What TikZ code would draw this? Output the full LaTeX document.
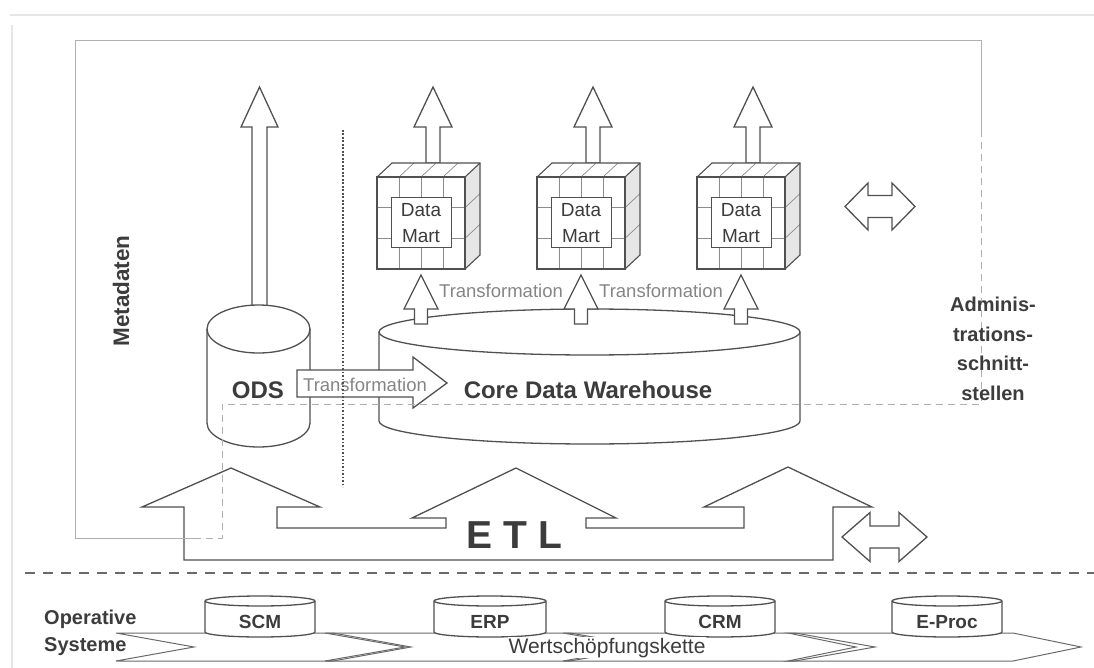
\documentclass[tikz,border=0pt]{standalone}
\usepackage{fontspec}
\setmainfont{Liberation Sans}
\definecolor{ink}{HTML}{505050}
\definecolor{txt}{HTML}{3C3C3C}
\definecolor{soft}{HTML}{858585}
\definecolor{framec}{HTML}{B0B0B0}
\definecolor{gridc}{HTML}{8C8C8C}
\definecolor{sidegray}{HTML}{E6E6E6}
\definecolor{edgec}{HTML}{E6E6E6}
\tikzset{
  outline/.style={draw=ink, line width=1.3pt, line join=miter, fill=white},
  thinline/.style={draw=ink, line width=1.1pt},
  gridline/.style={draw=gridc, line width=0.7pt},
  framesolid/.style={draw=framec, line width=1pt},
  framedash/.style={draw=framec, line width=1pt, dash pattern=on 7pt off 5pt},
  dotline/.style={draw=ink, line width=2.2pt, dash pattern=on 1.8pt off 1.7pt},
  sepline/.style={draw=ink!85, line width=2pt, dash pattern=on 10pt off 8pt},
  chevline/.style={draw=ink!85, line width=1pt, line join=miter},
  edgeline/.style={draw=edgec, line width=1.5pt},
  bigbold/.style={text=txt, inner sep=0pt, font=\bfseries\fontsize{24}{28}\selectfont},
  midbold/.style={text=txt, inner sep=0pt, font=\bfseries\fontsize{20}{24}\selectfont},
  smallbold/.style={text=txt, inner sep=0pt, font=\bfseries\fontsize{19}{22}\selectfont},
  translbl/.style={text=soft, inner sep=0pt, font=\fontsize{18.5}{22}\selectfont},
  martlbl/.style={draw=ink, line width=1pt, fill=white, minimum width=60pt,
    minimum height=50pt, align=center, inner sep=0pt, text=txt,
    font=\fontsize{19}{26}\selectfont},
  chainlbl/.style={text=txt, fill=white, inner sep=1pt, font=\fontsize{21}{24}\selectfont},
}
% upward block arrow: centre x, tip y, head base y, bottom y, head half width, shaft half width
\newcommand{\upblock}[6]{%
  \draw[outline] (#1,#2) -- ({#1+#5},#3) -- ({#1+#6},#3) -- ({#1+#6},#4)
    -- ({#1-#6},#4) -- ({#1-#6},#3) -- ({#1-#5},#3) -- cycle;}
% two-headed block arrow: centre x, centre y, half length, head length, head half height, shaft half height
\newcommand{\dblblock}[6]{%
  \draw[outline] ({#1-#3},#2) -- ({#1-#3+#4},{#2-#5}) -- ({#1-#3+#4},{#2-#6})
    -- ({#1+#3-#4},{#2-#6}) -- ({#1+#3-#4},{#2-#5}) -- ({#1+#3},#2)
    -- ({#1+#3-#4},{#2+#5}) -- ({#1+#3-#4},{#2+#6}) -- ({#1-#3+#4},{#2+#6})
    -- ({#1-#3+#4},{#2+#5}) -- cycle;}
% database cylinder: centre x, half width, top centre y, bottom centre y, y radius
\newcommand{\dbcyl}[5]{%
  \draw[outline] ({#1-#2},#3) -- ({#1-#2},#4)
    arc[start angle=180, end angle=0, x radius=#2, y radius=#5]
    -- ({#1+#2},#3)
    arc[start angle=0, end angle=-180, x radius=#2, y radius=#5] -- cycle;
  \draw[outline, fill=none] ({#1-#2},#3)
    arc[start angle=180, end angle=0, x radius=#2, y radius=#5];}
% data mart cube: front-left x, front-top y
\newcommand{\martcube}[2]{%
  \fill[white] (#1,#2) -- ({#1+15},{#2-14}) -- ({#1+103},{#2-14}) -- ({#1+88},#2) -- cycle;
  \fill[sidegray] ({#1+88},#2) -- ({#1+103},{#2-14}) -- ({#1+103},{#2+78}) -- ({#1+88},{#2+92}) -- cycle;
  \fill[white] (#1,#2) rectangle ({#1+88},{#2+92});
  \foreach \k in {1,2,3} {
    \draw[gridline] ({#1+22*\k},#2) -- ({#1+22*\k},{#2+92});
    \draw[gridline] ({#1+22*\k},#2) -- ({#1+22*\k+15},{#2-14});
  }
  \foreach \k in {1,2} {
    \draw[gridline] (#1,{#2+30.67*\k}) -- ({#1+88},{#2+30.67*\k});
    \draw[gridline] ({#1+88},{#2+30.67*\k}) -- ({#1+103},{#2+30.67*\k-14});
  }
  \draw[thinline, line join=miter] (#1,#2) rectangle ({#1+88},{#2+92});
  \draw[thinline, line join=miter] (#1,#2) -- ({#1+15},{#2-14}) -- ({#1+103},{#2-14})
    -- ({#1+103},{#2+78}) -- ({#1+88},{#2+92});
  \draw[thinline] ({#1+88},#2) -- ({#1+103},{#2-14});}
% value-chain chevron: tail x, head x, point depth
\newcommand{\chev}[3]{%
  \draw[chevline] (#1,633) -- (#2,633) -- ({#2+#3},647) -- (#2,661) -- (#1,661)
    -- ({#1+#3},647) -- cycle;}

\begin{document}
\begin{tikzpicture}[x=1pt, y=-1pt, line cap=butt]
\useasboundingbox (0,0) rectangle (1094,668);

% page edges
\draw[edgeline] (10,15) -- (1094,15);
\draw[edgeline] (12,25) -- (12,668);

% ODS with its outgoing arrow
\upblock{259.5}{87}{127}{314}{18.5}{7.5}
\dbcyl{258.5}{51.5}{329}{423}{24}

% core data warehouse
\dbcyl{589.5}{210.5}{332}{421}{23}

% transformations from the core warehouse up to the data marts
\upblock{421}{275}{309}{324}{17}{6.5}
\upblock{581}{275}{309}{324}{17}{6.5}
\upblock{741}{275}{309}{324}{17}{6.5}
\node[translbl, anchor=base] (tr1) at (501,297) {Transformation};
\node[translbl, anchor=base] (tr2) at (661,297) {Transformation};

% data marts with their outgoing arrows
\upblock{433}{87}{127}{163}{19}{7}
\upblock{593}{87}{127}{163}{19}{7}
\upblock{753}{87}{127}{163}{19}{7}
\martcube{377}{177}
\martcube{537}{177}
\martcube{697}{177}
\node[martlbl] (dm1) at (421,223) {Data\\Mart};
\node[martlbl] (dm2) at (581,223) {Data\\Mart};
\node[martlbl] (dm3) at (741,223) {Data\\Mart};

% ODS -> core warehouse
\draw[outline] (297,370) -- (413,370) -- (413,357) -- (447,383) -- (413,408)
  -- (413,397) -- (297,397) -- cycle;
\node[translbl, anchor=base] (tr0) at (365,391) {Transformation};

\node[bigbold, anchor=base] (ods) at (258,398) {ODS};
\node[bigbold, anchor=base] (cdw) at (588,398) {Core Data Warehouse};

% ETL block
\draw[outline] (184,560) -- (184,507) -- (142,507) -- (231,468) -- (320,507)
  -- (277,507) -- (277,528) -- (446,528) -- (446,518) -- (412,518) -- (516,468)
  -- (616,518) -- (586,518) -- (586,528) -- (744,528) -- (744,507) -- (704,507)
  -- (788,467) -- (872,507) -- (833,507) -- (833,560) -- cycle;
\node[text=txt, inner sep=0pt, font=\bfseries\fontsize{39}{40}\selectfont, anchor=base]
  (etl) at (514,548) {E\hspace{11pt}T\hspace{11pt}L};

% administration interfaces
\dblblock{880}{206.5}{35}{23}{23.5}{11}
\dblblock{884.5}{537}{42.5}{28}{24.5}{11}

% metadata frame
\draw[framesolid] (196,538) -- (75,538) -- (75,41) -- (981,41) -- (981,130);
\draw[framedash] (981,130) -- (981,404) -- (222,404) -- (222,538) -- (196,538);
\draw[dotline] (343,130) -- (343,487);

\node[text=txt, inner sep=0pt, font=\bfseries\fontsize{22.5}{26}\selectfont, rotate=90]
  (meta) at (121,291) {Metadaten};
\node[midbold, anchor=base] (adm1) at (993,311) {Adminis-};
\node[midbold, anchor=base] (adm2) at (993,341) {trations-};
\node[midbold, anchor=base] (adm3) at (993,370) {schnitt-};
\node[midbold, anchor=base] (adm4) at (993,400) {stellen};

% border to the operative systems
\draw[sepline] (25,573) -- (1094,573);

% value chain
\chev{116}{333}{78}
\chev{325}{570}{80}
\chev{563}{795}{80}
\chev{788}{1013}{68}
\dbcyl{260}{55}{601}{632}{5}
\dbcyl{490}{56}{601}{632}{5}
\dbcyl{720}{55}{601}{632}{5}
\dbcyl{947}{55}{601}{632}{5}
\node[smallbold, anchor=base] (scm) at (260,628) {SCM};
\node[smallbold, anchor=base] (erp) at (490,628) {ERP};
\node[smallbold, anchor=base] (crm) at (720,628) {CRM};
\node[smallbold, anchor=base] (eproc) at (947,628) {E-Proc};
\node[chainlbl, anchor=base] (chain) at (607,653) {Wertschöpfungskette};
\node[midbold, anchor=base west] (op1) at (44,624) {Operative};
\node[midbold, anchor=base west] (op2) at (44,651) {Systeme};
\end{tikzpicture}
\end{document}
